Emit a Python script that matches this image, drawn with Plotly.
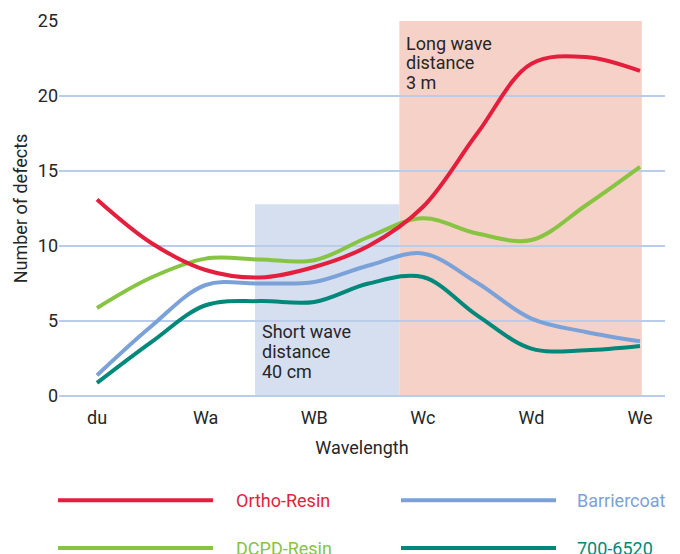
import plotly.graph_objects as go

categories = ["du", "Wa", "WB", "Wc", "Wd", "We"]
x_pos = [0, 0.5, 1, 1.5, 2, 2.5, 3, 3.5, 4, 4.5, 5]

ortho_resin = [13.1, 10.2, 8.4, 7.9, 8.6, 10.0, 12.6, 17.5, 22.15, 22.6, 21.67]
dcpd_resin = [5.87, 7.9, 9.16, 9.1, 9.05, 10.6, 11.85, 10.83, 10.4, 12.7, 15.27]
barriercoat = [1.38, 4.65, 7.4, 7.5, 7.6, 8.7, 9.5, 7.55, 5.16, 4.27, 3.65]
s700_6520 = [0.87, 3.59, 6.05, 6.33, 6.27, 7.5, 7.93, 5.38, 3.16, 3.05, 3.33]

series_names = ["Ortho-Resin", "Barriercoat", "DCPD-Resin", "700-6520"]
series_values = [ortho_resin, barriercoat, dcpd_resin, s700_6520]
colors = ["#E41F3D", "#7BA2D8", "#86C441", "#00897A"]

short_label = ["Short wave", "distance", "40 cm"]
long_label = ["Long wave", "distance", "3 m"]

FONT = "Roboto"
FS = 18
TXT = "#262626"
GRID = "#B9CCEA"

# page body has an 8px margin; compensate
OFF = 8

fig = go.Figure()

# shaded regions (below gridlines)
fig.add_shape(type="rect", xref="x", yref="y", x0=1.455, x1=2.784, y0=0, y1=12.78,
              fillcolor="#D5DFF0", line_width=0, layer="below")
fig.add_shape(type="rect", xref="x", yref="y", x0=2.784, x1=5.016, y0=0, y1=25,
              fillcolor="#F6D1C7", line_width=0, layer="below")

order = [3, 1, 2, 0]
for i in order:
    fig.add_trace(go.Scatter(
        x=x_pos, y=series_values[i], mode="lines", name=series_names[i],
        line=dict(color=colors[i], width=4, shape="spline", smoothing=1.0),
        showlegend=False, hoverinfo="skip"))

# region annotations
for k, t in enumerate(short_label):
    fig.add_annotation(x=1.50, y=4.31 - k * 1.33, xref="x", yref="y", text=t,
                       showarrow=False, xanchor="left", yanchor="middle",
                       font=dict(family=FONT, size=FS, color=TXT))
for k, t in enumerate(long_label):
    fig.add_annotation(x=2.826, y=23.53 - k * 1.32, xref="x", yref="y", text=t,
                       showarrow=False, xanchor="left", yanchor="middle",
                       font=dict(family=FONT, size=FS, color=TXT))

# custom legend (positions in reference-page pixels)
L, W, T, H = 59, 606, 20.7, 375.0
def px_x(p):
    return (p - L) / W
def px_y(p):
    return (T + H - p) / H

legend_pos = [(58, 213, 234, 500), (401, 556, 575, 500), (58, 213, 234, 547.7), (401, 556, 575, 547.7)]
for i, (lx0, lx1, tx, ly) in enumerate(legend_pos):
    fig.add_shape(type="line", xref="paper", yref="paper",
                  x0=px_x(lx0), x1=px_x(lx1), y0=px_y(ly), y1=px_y(ly),
                  line=dict(color=colors[i], width=4))
    fig.add_annotation(x=px_x(tx), y=px_y(ly), xref="paper", yref="paper",
                       text=series_names[i], showarrow=False, xanchor="left",
                       yanchor="middle", font=dict(family=FONT, size=FS, color=colors[i]))

fig.update_layout(
    width=680 - OFF, height=554 - OFF,
    margin=dict(l=59 - OFF, r=15, t=20.7 - OFF, b=554 - OFF - (20.7 - OFF) - 375),
    plot_bgcolor="white", paper_bgcolor="white",
    font=dict(family=FONT, size=FS, color=TXT),
    showlegend=False,
    xaxis=dict(range=[-0.35, 5.23], tickvals=list(range(len(categories))),
               ticktext=categories, showgrid=False, zeroline=False, automargin=False,
               showline=False, ticks="", ticklen=0, ticklabelstandoff=9,
               title=dict(text="Wavelength", font=dict(size=FS), standoff=14),
               tickfont=dict(size=FS)),
    yaxis=dict(range=[0, 25], tickvals=[0, 5, 10, 15, 20, 25], showgrid=True,
               gridcolor=GRID, gridwidth=1.5, zeroline=True, zerolinecolor=GRID,
               zerolinewidth=1.5, showline=False, ticks="", automargin=False,
               title=dict(text="Number of defects", font=dict(size=FS), standoff=5),
               tickfont=dict(size=FS)),
)

fig.write_html("out.html")
